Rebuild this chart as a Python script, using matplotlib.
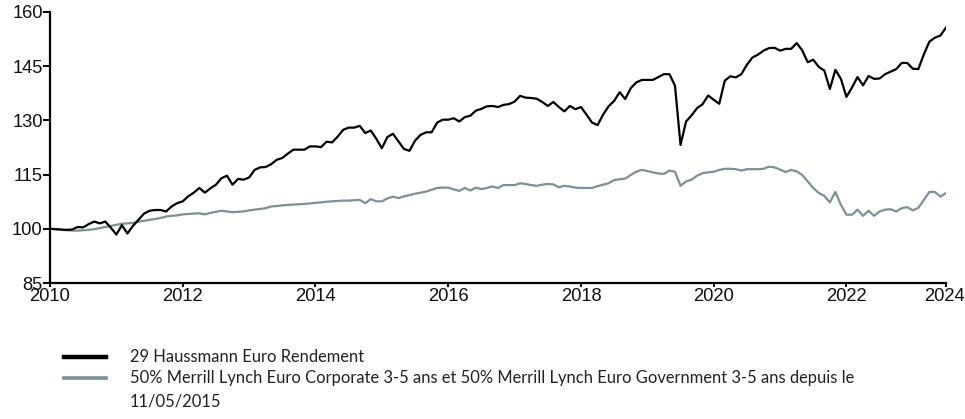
import matplotlib.pyplot as plt
import matplotlib.transforms as mtransforms
from matplotlib.lines import Line2D

# monthly values, index 0 = Jan 2010
fund = [100.0, 99.9, 99.8, 99.7, 99.8, 100.5, 100.4, 101.3, 102.0, 101.5,
        102.0, 100.3, 98.4, 101.0, 98.7, 100.8, 102.5, 104.2, 105.0, 105.2,
        105.2, 104.8, 106.2, 107.1, 107.6, 109.0, 110.0, 111.3, 110.0, 111.2,
        112.2, 114.0, 114.7, 112.2, 113.8, 113.6, 114.2, 116.3, 117.0, 117.1,
        117.9, 119.1, 119.6, 120.8, 121.9, 121.9, 121.9, 122.8, 122.8, 122.6,
        124.1, 123.9, 125.5, 127.4, 128.0, 128.0, 128.5, 126.5, 127.2, 124.9,
        122.3, 125.4, 126.3, 124.2, 122.1, 121.6, 124.4, 126.0, 126.7, 126.7,
        129.4, 130.2, 130.2, 130.6, 129.7, 130.9, 131.3, 132.7, 133.2, 133.9,
        134.0, 133.7, 134.3, 134.5, 135.2, 136.8, 136.3, 136.2, 136.0, 135.1,
        134.0, 135.1, 133.7, 132.5, 134.0, 133.1, 133.7, 131.6, 129.4, 128.7,
        131.6, 133.9, 135.4, 137.8, 135.9, 138.9, 140.5, 141.2, 141.2, 141.2,
        142.0, 142.8, 142.8, 139.6, 123.2, 129.7, 131.4, 133.4, 134.5, 136.9,
        135.7, 134.6, 141.0, 142.2, 141.9, 142.8, 145.4, 147.4, 148.2, 149.3,
        150.0, 150.1, 149.3, 149.8, 149.8, 151.4, 149.4, 146.1, 146.8, 144.8,
        143.8, 138.7, 144.0, 141.5, 136.5, 139.1, 142.0, 139.7, 142.3, 141.5,
        141.6, 142.8, 143.5, 144.2, 145.9, 145.9, 144.3, 144.2, 148.3, 151.8,
        152.9, 153.5, 155.7]

bench = [100.0, 99.9, 99.7, 99.6, 99.5, 99.5, 99.6, 99.7, 99.9, 100.2,
         100.5, 100.8, 101.1, 101.4, 101.5, 101.6, 102.0, 102.2, 102.5, 102.7,
         103.0, 103.4, 103.6, 103.7, 104.0, 104.1, 104.2, 104.3, 104.0, 104.4,
         104.7, 105.0, 104.8, 104.6, 104.7, 104.8, 105.1, 105.3, 105.5, 105.7,
         106.2, 106.3, 106.5, 106.6, 106.7, 106.8, 106.9, 107.0, 107.2, 107.3,
         107.5, 107.6, 107.7, 107.8, 107.8, 107.9, 108.0, 107.1, 108.2, 107.6,
         107.6, 108.4, 108.9, 108.5, 109.0, 109.3, 109.7, 110.0, 110.3, 110.8,
         111.3, 111.4, 111.4, 110.9, 110.5, 111.3, 110.6, 111.4, 111.0, 111.3,
         111.7, 111.3, 112.1, 112.1, 112.1, 112.6, 112.4, 112.1, 111.9, 112.2,
         112.4, 112.3, 111.5, 111.9, 111.7, 111.4, 111.3, 111.3, 111.3, 111.8,
         112.2, 112.6, 113.5, 113.7, 113.9, 114.9, 115.8, 116.3, 116.0, 115.6,
         115.3, 115.2, 116.1, 115.8, 111.9, 113.1, 113.6, 114.7, 115.4, 115.6,
         115.8, 116.3, 116.6, 116.6, 116.5, 116.1, 116.5, 116.5, 116.5, 116.6,
         117.2, 117.0, 116.4, 115.7, 116.3, 115.9, 114.9, 113.1, 111.3, 109.9,
         109.1, 107.3, 110.2, 106.6, 103.9, 103.9, 105.3, 103.6, 105.0, 103.6,
         104.8, 105.3, 105.4, 104.8, 105.7, 106.0, 105.1, 105.8, 108.0, 110.2,
         110.2, 108.9, 109.9]

xtick_pos = [0, 24, 48, 72, 96, 120, 144, 162]
xtick_labels = ['2010', '2012', '2014', '2016', '2018', '2020', '2022', '2024']
ytick_vals = [85, 100, 115, 130, 145, 160]

label_fund = '29 Haussmann Euro Rendement'
label_bench = ('50% Merrill Lynch Euro Corporate 3-5 ans et 50% Merrill Lynch Euro '
               'Government 3-5 ans depuis le\n11/05/2015')

black = '#000000'
grey = '#7b9097'

W, H = 965, 419
fig = plt.figure(figsize=(W / 100, H / 100), dpi=100)
ax = fig.add_axes([50 / W, 1 - 283 / H, 896 / W, 271 / H])

months = list(range(len(fund)))
ax.plot(months, bench, color=grey, lw=1.6, zorder=2)
ax.plot(months, fund, color=black, lw=1.6, zorder=3)

ax.set_xlim(0, 162)
ax.set_ylim(85, 160)
ax.set_xticks(xtick_pos)
ax.set_xticklabels(xtick_labels)
ax.set_yticks(ytick_vals)

for s in ['top', 'right']:
    ax.spines[s].set_visible(False)
for s in ['left', 'bottom']:
    ax.spines[s].set_linewidth(1.6)
    ax.spines[s].set_color(black)

ax.tick_params(axis='y', direction='out', length=5, width=1.4, pad=0.3,
               labelsize=13.2, labelcolor='#111111')
ax.tick_params(axis='x', direction='out', length=3, width=1.4, pad=0.3,
               labelsize=13.2, labelcolor='#111111')
for lab in ax.get_xticklabels() + ax.get_yticklabels():
    lab.set_family('Liberation Sans')

# keep the last year label inside the figure
last = ax.get_xticklabels()[-1]
last.set_transform(last.get_transform() +
                   mtransforms.ScaledTranslation(-2 / 100, 0, fig.dpi_scale_trans))

# legend drawn by hand below the plot
fig.lines.append(Line2D([64 / W, 106 / W], [1 - 357 / H, 1 - 357 / H],
                        transform=fig.transFigure, color=black, lw=3.2))
fig.lines.append(Line2D([64 / W, 106 / W], [1 - 378 / H, 1 - 378 / H],
                        transform=fig.transFigure, color=grey, lw=2.6))
fig.text(130 / W, 1 - 357 / H, label_fund, va='center', ha='left',
         fontsize=11.9, family='Lato', color='#222222')
fig.text(130 / W, 1 - 370 / H, label_bench, va='top', ha='left',
         fontsize=11.9, family='Lato', color='#222222', linespacing=1.55)

fig.savefig('out.png', dpi=100)
